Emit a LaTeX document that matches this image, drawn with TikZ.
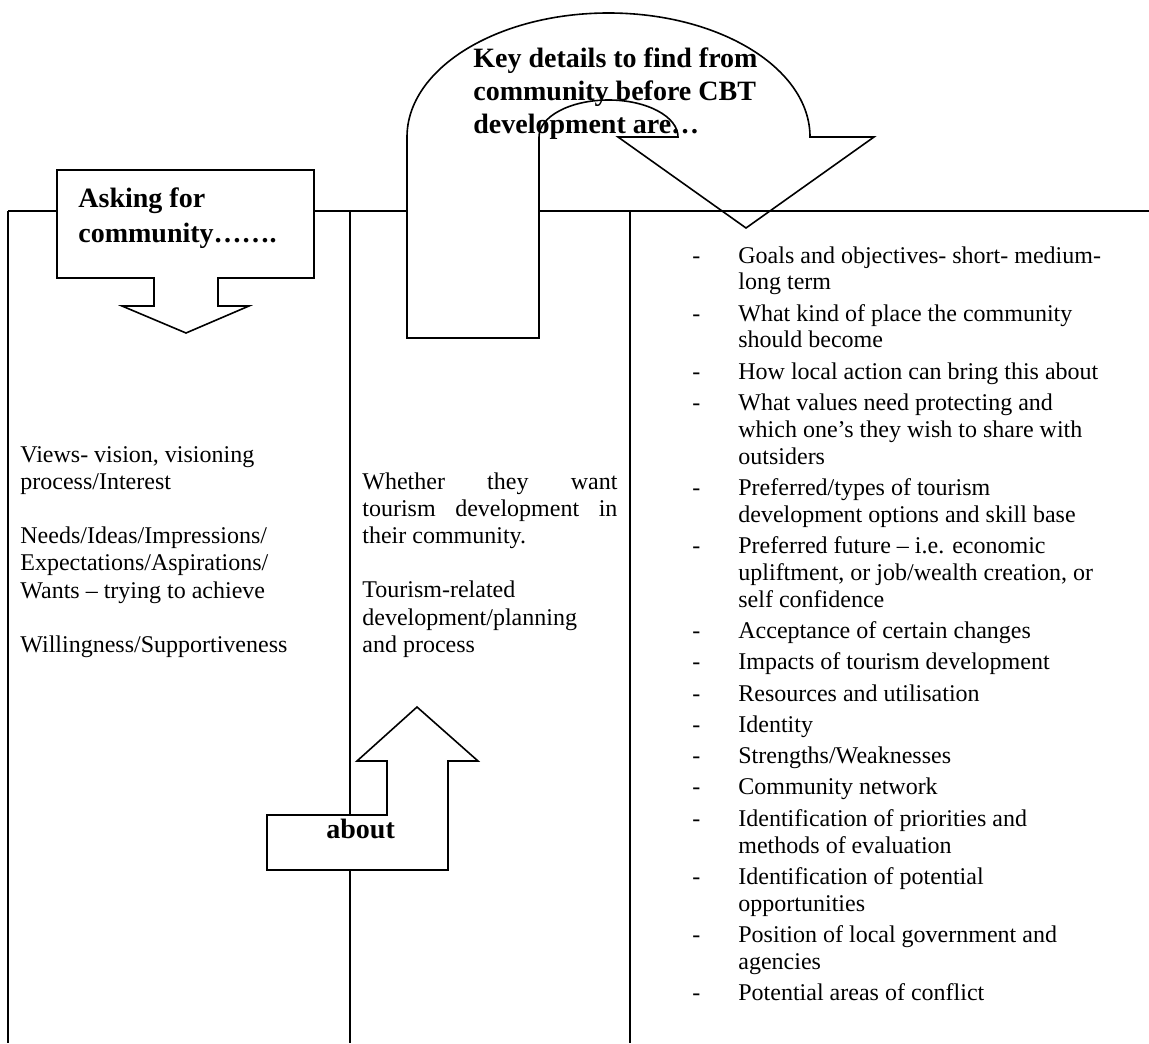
\documentclass[tikz,border=0pt]{standalone}
\usepackage{fontspec}
\setmainfont{Liberation Serif}
\newcommand{\itemdash}{\makebox[23pt][l]{-}}
\newcommand{\itemcont}{\hspace*{23pt}}
\newcommand{\itemend}{\\[2.25pt]}
\begin{document}
\begin{tikzpicture}[x=0.5pt,y=-0.5pt]
\tikzset{
  rule/.style={line width=1pt},
  arrowshape/.style={draw, line width=0.8pt, fill=white, line join=miter},
  headtext/.style={anchor=base west, inner sep=0pt, font=\fontsize{14}{16.3}\selectfont\bfseries},
  bodytext/.style={anchor=base west, inner sep=0pt, font=\fontsize{12}{13.6}\selectfont},
}
\fill[white] (0,0) rectangle (1149,1043);
\useasboundingbox (0,0) rectangle (1149,1043);

% table frame
\coordinate (topL) at (8,211);
\coordinate (topR) at (1149,211);
\coordinate (botL) at (8,1043);
\coordinate (colA) at (350,211);
\coordinate (colAb) at (350,1043);
\coordinate (colB) at (630,211);
\coordinate (colBb) at (630,1043);
\coordinate (legR) at (539,211);
\draw[rule] (topL) -- (topR);
\draw[rule] (topL) -- (botL);
\draw[rule] (colA) -- (colAb);
\draw[rule] (colB) -- (colBb);

% U-turn arrow
\draw[arrowshape] (407,338) -- (407,137)
  arc[start angle=180, end angle=360, x radius=201.5, y radius=124]
  -- (874,137) -- (746,228) -- (618,137) -- (678,137)
  arc[start angle=0, end angle=-180, x radius=69.5, y radius=37]
  -- (539,338) -- cycle;
\draw[rule] (legR) -- (topR);

% downward callout arrow
\draw[arrowshape] (57,170) -- (314,170) -- (314,278) -- (218,278) -- (218,306)
  -- (249,306) -- (186,333) -- (122,306) -- (154,306) -- (154,278) -- (57,278) -- cycle;

% upward bent arrow
\draw[arrowshape] (267,815) -- (387,815) -- (387,761) -- (357,761) -- (417,707)
  -- (478,761) -- (448,761) -- (448,870) -- (267,870) -- cycle;

% headings
\node[headtext] (key) at (473,68) {\parbox[t]{200pt}{Key details to find from\\community before CBT\\development are…}};
\node[headtext] (asking) at (78,207) {\parbox[t]{140pt}{\baselineskip=17.5pt Asking for\\community…….}};
\node[headtext] (about) at (326,838) {about};

% column texts
\node[bodytext] (left) at (20,462) {\parbox[t]{165pt}{Views- vision, visioning\\
process/Interest\\[13.6pt]
Needs/Ideas/Impressions/\\
Expectations/Aspirations/\\
Wants – trying to achieve\\[13.6pt]
Willingness/Supportiveness}};

\node[bodytext] (middle) at (362,489) {\parbox[t]{128pt}{\makebox[127.5pt][s]{Whether they want}\\
\makebox[127.5pt][s]{tourism development in}\\
their community.\\[13.6pt]
Tourism-related\\
development/planning\\
and process}};

\node[bodytext] (right) at (692,263) {\parbox[t]{228pt}{\baselineskip=13.4pt
\itemdash Goals and objectives- short- medium-\\
\itemcont long term\itemend
\itemdash What kind of place the community\\
\itemcont should become\itemend
\itemdash How local action can bring this about\itemend
\itemdash What values need protecting and\\
\itemcont which one’s they wish to share with\\
\itemcont outsiders\itemend
\itemdash Preferred/types of tourism\\
\itemcont development options and skill base\itemend
\itemdash Preferred future – i.e. economic\\
\itemcont upliftment, or job/wealth creation, or\\
\itemcont self confidence\itemend
\itemdash Acceptance of certain changes\itemend
\itemdash Impacts of tourism development\itemend
\itemdash Resources and utilisation\itemend
\itemdash Identity\itemend
\itemdash Strengths/Weaknesses\itemend
\itemdash Community network\itemend
\itemdash Identification of priorities and\\
\itemcont methods of evaluation\itemend
\itemdash Identification of potential\\
\itemcont opportunities\itemend
\itemdash Position of local government and\\
\itemcont agencies\itemend
\itemdash Potential areas of conflict}};
\end{tikzpicture}
\end{document}
